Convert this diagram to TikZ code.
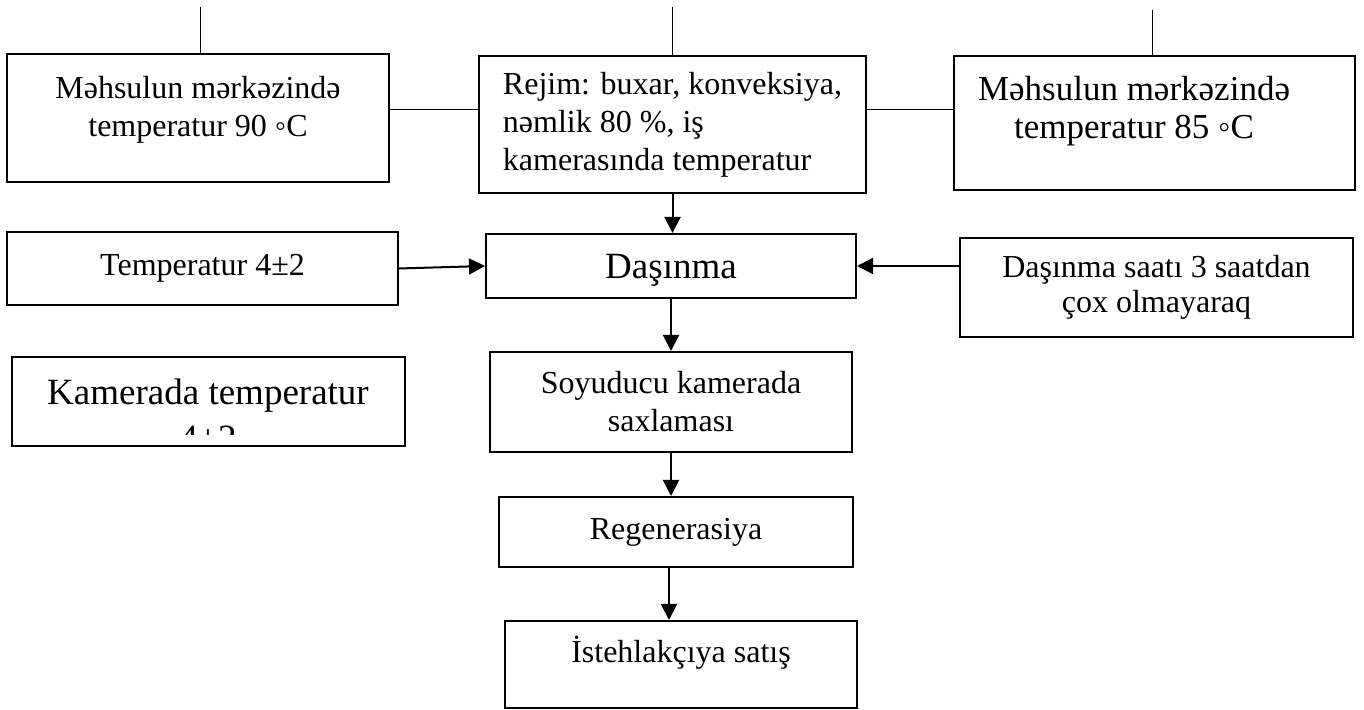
\documentclass[tikz,border=0pt]{standalone}
\usepackage{fontspec}
\setmainfont{Liberation Serif}
\usepackage{tikz}
\usetikzlibrary{arrows.meta,positioning,calc}

\begin{document}
\begin{tikzpicture}[x=0.5pt,y=0.5pt,
		box/.style={draw, line width=1pt, inner sep=0pt},
		txt/.style={font=\fontsize{16}{19}\selectfont, align=center, inner sep=0pt},
		bigtxt/.style={font=\fontsize{18.5}{23}\selectfont, align=center, inner sep=0pt},
		arr/.style={-{Triangle[length=8pt,width=8pt]}, line width=1pt},
		link/.style={line width=0.5pt}]
			\useasboundingbox (0,0) rectangle (1364,710);
			
			% top row
			\node[box, minimum width=191pt, minimum height=64pt] (mhs90) at (198,592) {};
			\node[txt] (mhs90txt) at (198,600) {Məhsulun mərkəzində\\temperatur 90 ◦C};
			
			\node[box, txt, align=left, minimum width=193.5pt, minimum height=68.5pt] (rejim) at (672.5,585.5)
				{Rejim: buxar, konveksiya,\\nəmlik 80 \%, iş\\kamerasında temperatur};
			
			\node[box, minimum width=200.5pt, minimum height=67pt] (mhs85) at (1154.5,587) {};
			\node[txt, font=\fontsize{17.5}{19}\selectfont] (mhs85txt) at (1134,599) {Məhsulun mərkəzində\\temperatur 85 ◦C};
			
			% lines on top
			\coordinate (top1) at (200,703);
			\coordinate (top2) at (672,703);
			\coordinate (top3) at (1152,700);
			\draw[link] (top1) -- (top1 |- mhs90.north);
			\draw[link] (top2) -- (top2 |- rejim.north);
			\draw[link] (top3) -- (top3 |- mhs85.north);
			\draw[link] (mhs90.east |- 0,600) -- (rejim.west |- 0,600);
			\draw[link] (rejim.east |- 0,600) -- (mhs85.west |- 0,600);
			
			% middle row
			\node[box, txt, minimum width=195.5pt, minimum height=36.5pt] (temp) at (202.5,441.5) {Temperatur 4±2};
			\node[box, bigtxt, text depth=0pt, minimum width=185pt, minimum height=32pt] (dasinma) at (671,444) {Daşınma};
			\node[box, txt, font=\fontsize{16}{17.5}\selectfont, minimum width=196.5pt, minimum height=49.5pt] (saat) at (1156.5,422.5)
				{Daşınma saatı 3 saatdan\\çox olmayaraq};
			
			% camera box, second line cut off
			\node[box, minimum width=196.5pt, minimum height=44.5pt] (kamera) at (208.5,308.5) {};
			\begin{scope}
				\clip (12,275) rectangle (405,353);
				\node[bigtxt] (kameratxt) at (208,295) {Kamerada temperatur\\4±2};
			\end{scope}
			
			% main chain
			\node[box, txt, minimum width=181pt, minimum height=50pt] (soyuducu) at (671,308)
				{Soyuducu kamerada\\saxlaması};
			\node[box, txt, minimum width=177pt, minimum height=35pt] (regen) at (676,178) {Regenerasiya};
			\node[box, minimum width=176pt, minimum height=43.5pt] (satis) at (681,45.5) {};
			\node[txt] (satistxt) at (681,57) {İstehlakçıya satış};
			
			% arrows
			\draw[arr] (rejim.south) -- (rejim.south |- dasinma.north);
			\draw[arr] (temp.east) -- (dasinma.west);
			\draw[arr] (saat.west |- dasinma.east) -- (dasinma.east);
			\draw[arr] (dasinma.south) -- (dasinma.south |- soyuducu.north);
			\draw[arr] (soyuducu.south) -- (soyuducu.south |- regen.north);
			\draw[arr] ($(regen.south)+(-7,0)$) -- ($(regen.south |- satis.north)+(-7,0)$);
		\end{tikzpicture}
\end{document}
